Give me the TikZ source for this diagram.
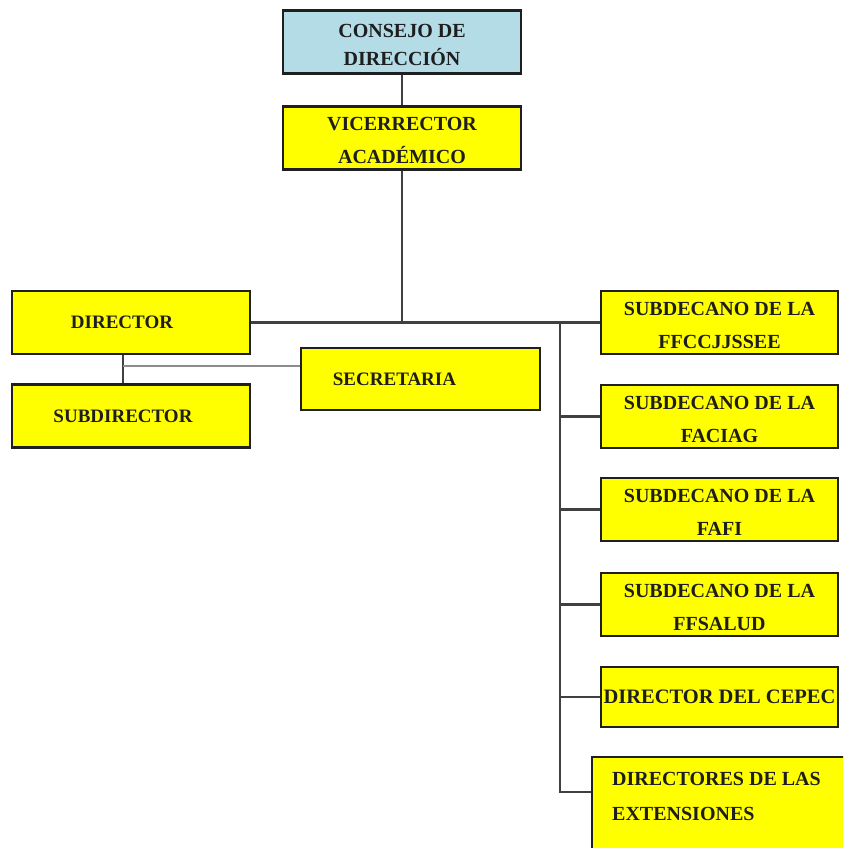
\documentclass[tikz,border=0pt]{standalone}
\usepackage{fontspec}
\setmainfont{Liberation Serif}
\definecolor{boxyellow}{HTML}{FFFF00}
\definecolor{boxblue}{HTML}{B4DCE6}
\definecolor{inkdark}{HTML}{1E1E1E}
% a taller first line lowers two-line labels a little inside their boxes
\newcommand{\firstline}{\rule{0pt}{19pt}}
\begin{document}
\begin{tikzpicture}[x=1pt,y=-1pt,
  box/.style={draw=black!88, line width=2.4pt, fill=boxyellow,
    minimum width=238pt, minimum height=63pt, inner sep=0pt,
    align=center, text=inkdark,
    font=\bfseries\fontsize{20}{33}\selectfont},
  smallbox/.style={box, font=\bfseries\fontsize{19}{30}\selectfont},
  link/.style={draw=black!75, line width=2.2pt},
  thinlink/.style={draw=black!45, line width=1.6pt}]
\useasboundingbox (0,0) rectangle (843,848);
\clip (0,0) rectangle (843,848);

% top of the hierarchy
\node[box, fill=boxblue, font=\bfseries\fontsize{20}{28}\selectfont] (cd) at (402,42) {\firstline CONSEJO DE\\DIRECCIÓN};
\node[box] (vr) at (402,138) {\firstline VICERRECTOR\\ACADÉMICO};

% left branch
\node[smallbox] (dir) at (131,322.5) {\hspace*{-18pt}DIRECTOR};
\node[smallbox] (sub) at (131,416) {\hspace*{-16pt}SUBDIRECTOR};
\node[smallbox, minimum width=239pt, minimum height=62pt] (sec) at (420.5,379) {\hspace*{-52pt}SECRETARIA};

% right column
\node[box, minimum width=237pt] (sd1) at (719.5,322.5) {\firstline SUBDECANO DE LA\\FFCCJJSSEE};
\node[box, minimum width=237pt] (sd2) at (719.5,416.5) {\firstline SUBDECANO DE LA\\FACIAG};
\node[box, minimum width=237pt] (sd3) at (719.5,509.5) {\firstline SUBDECANO DE LA\\FAFI};
\node[box, minimum width=237pt] (sd4) at (719.5,604.5) {\firstline SUBDECANO DE LA\\FFSALUD};
\node[box, minimum width=237pt, minimum height=60pt, font=\bfseries\fontsize{20.5}{30}\selectfont] (cepec) at (719.5,697) {DIRECTOR DEL CEPEC};
\node[box, minimum width=258pt, minimum height=113pt] (ext) at (721,813.5) {};
\node[anchor=north west, inner sep=0pt, align=left, text=inkdark,
  font=\bfseries\fontsize{20}{35}\selectfont] (exttxt) at (612,772) {DIRECTORES DE LAS\\EXTENSIONES};

% connectors
\coordinate (hub) at (402,322.5);
\coordinate (trunk) at (560,322.5);
\coordinate (trunkend) at (560,792);
\coordinate (ds) at (123,366);

\draw[link] (cd.south) -- (vr.north);
\draw[link] (vr.south) -- (hub);
\draw[link] (dir.east) -- (sd1.west);
\draw[link] (trunk) -- (trunkend) -- (trunkend -| ext.west);
\draw[link] (trunk) |- (sd2.west);
\draw[link] (trunk) |- (sd3.west);
\draw[link] (trunk) |- (sd4.west);
\draw[link] (trunk) |- (cepec.west);
\draw[link] (ds |- dir.south) -- (ds |- sub.north);
\draw[thinlink] (ds) -- (ds -| sec.west);
\end{tikzpicture}
\end{document}
